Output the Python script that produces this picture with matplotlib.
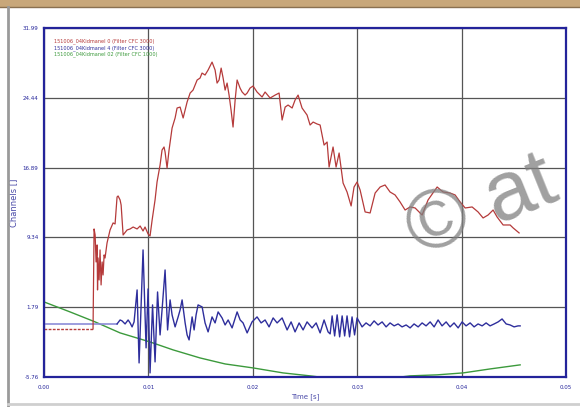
import numpy as np
import matplotlib
matplotlib.use('Agg')
import matplotlib.pyplot as plt
from matplotlib.patches import Rectangle
from matplotlib.lines import Line2D

# Channel data (time in ms, value in channel units).
red_t = [0, 4.69, 4.79, 4.89, 4.98, 5.08, 5.12, 5.17, 5.27, 5.36, 5.46, 5.56, 5.65, 5.75, 5.84,
         6.03, 6.32, 6.61, 6.80, 6.99, 7.09, 7.28, 7.38, 7.57, 7.95, 8.24, 8.53, 8.91, 9.20,
         9.48, 9.67, 9.96, 10.15, 10.35, 10.63, 10.82, 11.11, 11.30, 11.49, 11.59, 11.78,
         11.97, 12.26, 12.55, 12.74, 13.03, 13.32, 13.51, 13.70, 13.99, 14.27, 14.66, 14.94,
         15.13, 15.42, 15.71, 16.09, 16.38, 16.57, 16.76, 16.96, 17.15, 17.34, 17.53, 17.72,
         17.91, 18.10, 18.30, 18.49, 18.77, 18.97, 19.25, 19.45, 19.73, 20.02, 20.40, 20.88,
         21.17, 21.65, 22.13, 22.51, 22.80, 23.09, 23.37, 23.76, 24.04, 24.33, 24.71, 25.19,
         25.48, 25.77, 26.15, 26.44, 26.82, 27.11, 27.30, 27.68, 27.97, 28.26, 28.64, 29.02,
         29.41, 29.69, 29.98, 30.27, 30.75, 31.23, 31.71, 32.19, 32.66, 33.14, 33.62, 34.10,
         34.58, 35.06, 35.54, 36.21, 36.78, 37.65, 38.22, 38.89, 39.37, 39.85, 40.33, 41.00,
         41.57, 42.05, 42.53, 43.01, 43.39, 43.97, 44.64, 44.93, 45.50]
red_v = [-0.57, -0.57, 10.25, 9.60, 6.68, 8.52, 3.65, 7.11, 4.73, 7.98, 4.19, 6.68, 5.27, 7.44, 7.11,
         8.73, 10.14, 10.90, 10.79, 13.71, 13.82, 13.39, 12.84, 9.60, 10.14, 10.25, 10.46, 10.25, 10.57,
         10.03, 10.46, 9.71, 9.49, 11.22, 13.39, 15.33, 17.17, 18.79, 19.12, 18.58, 16.85,
         18.79, 21.17, 22.26, 23.34, 23.44, 22.26, 23.12, 23.99, 24.96, 25.28, 26.37, 26.58,
         27.12, 26.91, 27.45, 28.31, 27.45, 26.04, 26.37, 27.66, 26.58, 25.28, 26.04, 24.74,
         23.12, 21.28, 24.20, 26.37, 25.50, 25.07, 24.74, 24.96, 25.50, 25.72, 25.07, 24.53,
         25.07, 24.42, 24.74, 24.96, 22.04, 23.44, 23.66, 23.34, 24.20, 24.74, 23.34, 22.58,
         21.50, 21.82, 21.61, 21.50, 19.33, 19.66, 16.95, 19.12, 16.95, 18.47, 15.22, 14.25,
         12.74, 14.79, 15.33, 14.47, 12.09, 11.98, 14.14, 14.79, 15.01, 14.25, 13.93, 13.17,
         12.30, 12.63, 12.52, 11.76, 13.39, 14.79, 14.25, 14.14, 13.93, 13.17, 12.52, 12.63,
         12.09, 11.44, 11.76, 12.30, 11.55, 10.68, 10.68, 10.36, 9.82]

blue_t = [0, 6.99, 7.28, 7.47, 7.76, 8.05, 8.24, 8.43, 8.62, 8.91, 9.10, 9.48, 9.77, 9.96, 10.15,
          10.39, 10.63, 10.87, 11.11, 11.30, 11.59, 11.83, 12.07, 12.26, 12.55, 12.84, 13.03,
          13.22, 13.51, 13.70, 13.89, 14.18, 14.37, 14.56, 14.75, 15.14, 15.42, 15.71, 16.09,
          16.38, 16.67, 17.05, 17.34, 17.63, 18.01, 18.49, 18.78, 19.06, 19.45, 19.92, 20.40,
          20.79, 21.17, 21.55, 21.94, 22.32, 22.80, 23.28, 23.66, 24.04, 24.43, 24.81, 25.19,
          25.67, 26.06, 26.44, 26.82, 27.20, 27.40, 27.59, 27.83, 28.07, 28.31, 28.55, 28.79,
          29.02, 29.26, 29.50, 29.74, 29.98, 30.46, 30.84, 31.23, 31.61, 31.99, 32.38, 32.76,
          33.14, 33.53, 33.91, 34.29, 34.68, 35.06, 35.44, 35.83, 36.21, 36.59, 36.98, 37.36,
          37.74, 38.12, 38.51, 38.89, 39.27, 39.66, 40.04, 40.42, 40.81, 41.19, 41.57, 41.96,
          42.34, 42.72, 43.11, 43.49, 43.87, 44.26, 44.64, 45.02, 45.40, 45.60]
blue_v = [-0.03, -0.03, 0.40, 0.30, -0.03, 0.40, 0.08, -0.35, 0.19, 3.65, -4.25, 7.98, -2.62, 3.76, -5.33,
          2.03, -4.14, 3.43, -1.22, 1.49, 5.81, -0.68, 2.57, 0.95, -0.35, 0.73, 1.49,
          2.57, 0.08, -1.22, -1.76, 0.73, -0.68, 0.95, 2.03, 1.81, 0.08, -0.89, 0.73,
          0.08, 1.27, 0.62, -0.14, 0.40, -0.46, 1.27, 0.40, 0.08, -1.00, 0.19, 0.73,
          0.08, 0.40, -0.35, 0.62, 0.08, 0.62, -0.68, 0.19, -0.89, 0.08, -0.68, 0.19,
          -0.46, 0.08, -1.00, 0.40, -0.89, -1.11, 0.84, -1.33, 0.95, -1.43, 0.84, -1.33,
          0.84, -1.43, 0.73, -1.22, 0.62, -0.35, 0.08, -0.24, 0.30, -0.14, 0.19, -0.35,
          0.08, -0.24, -0.03, -0.35, -0.14, -0.46, -0.03, -0.35, 0.08, -0.24, 0.19, -0.35,
          0.40, -0.24, 0.19, -0.35, 0.08, -0.46, 0.19, -0.24, 0.08, -0.35, -0.03, -0.24,
          0.08, -0.24, -0.03, 0.19, 0.51, -0.03, -0.14, -0.35, -0.24, -0.24]

green_t = [0, 2.49, 4.89, 7.28, 10.15, 12.36, 14.94, 17.34, 20.02, 22.89, 25.48, 27.87, 30.27,
           32.66, 35.06, 37.65, 40.14, 42.72, 45.60]
green_v = [2.35, 1.27, 0.19, -1.00, -1.98, -2.84, -3.71, -4.36, -4.79, -5.33, -5.65, -5.98, -6.09,
           -5.98, -5.65, -5.54, -5.33, -4.90, -4.46]

channel_names = ['151006_04Kidmanel 0 (Filter CFC 3000)',
                 '151006_04Kidmanel 4 (Filter CFC 3000)',
                 '151006_04Kidmanel 02 (Filter CFC 1000)']
x_ticks = [0.00, 0.01, 0.02, 0.03, 0.04, 0.05]
x_tick_labels = ['0.00', '0.01', '0.02', '0.03', '0.04', '0.05']
y_ticks = [-5.76, 1.79, 9.34, 16.89, 24.44, 31.99]
y_tick_labels = ['-5.76', '1.79', '9.34', '16.89', '24.44', '31.99']

red_c = '#b53a3a'
blue_c = '#2e2e9c'
green_c = '#3c9a3c'
navy = '#23239a'

fig = plt.figure(figsize=(5.8, 4.07), dpi=100)
fig.patch.set_facecolor('white')

# Frame around the screenshot
fig.patches.append(Rectangle((0, 0.982), 1, 0.018, transform=fig.transFigure,
                             facecolor='#c8a77a', edgecolor='none'))
fig.lines.append(Line2D([0, 1], [0.982, 0.982], transform=fig.transFigure, color='#8a7050', lw=1))
fig.lines.append(Line2D([0.014, 0.014], [0, 0.982], transform=fig.transFigure, color='#9a9a9a', lw=2))
fig.lines.append(Line2D([0.014, 1], [0.008, 0.008], transform=fig.transFigure, color='#cfcfcf', lw=2))

ax = fig.add_axes([0.076, 0.074, 0.900, 0.857])

red_t = np.array(red_t) / 1000
blue_t = np.array(blue_t) / 1000
green_t = np.array(green_t) / 1000

ax.plot(green_t, green_v, color=green_c, lw=1.0)
ax.plot(blue_t[:2], blue_v[:2], color='#8c8cd8', lw=1.2)
ax.plot(blue_t[1:], blue_v[1:], color=blue_c, lw=1.0)
ax.plot(red_t[:2], red_v[:2], color=red_c, lw=1.0, ls=(0, (2, 1)))
ax.plot(red_t[1:], red_v[1:], color=red_c, lw=0.9)

ax.set_xlim(0, 0.05)
ax.set_ylim(-5.76, 31.99)
ax.set_xticks(x_ticks)
ax.set_xticklabels(x_tick_labels)
ax.set_yticks(y_ticks)
ax.set_yticklabels(y_tick_labels)
ax.tick_params(length=0, labelsize=4, labelcolor=navy)
ax.tick_params(axis='y', pad=4)
ax.tick_params(axis='x', pad=6)
ax.grid(True, color='#555555', lw=0.9)
ax.set_axisbelow(True)
for s in ax.spines.values():
    s.set_color(navy)
    s.set_linewidth(1.6)

ax.set_xlabel('Time [s]', fontsize=5, color='#4a4aa8', labelpad=2)
ax.set_ylabel('Channels []', fontsize=6, color='#4a4aa8', labelpad=3)

for i, (name, c) in enumerate(zip(channel_names, [red_c, blue_c, green_c])):
    ax.text(0.019, 0.972 - i * 0.02, name, transform=ax.transAxes, fontsize=3.6,
            color=c, va='top')

# Watermark
fig.text(0.722, 0.37, '\u00a9 at', fontsize=60, family='Liberation Sans',
         color='#808080', alpha=0.75, rotation=22, rotation_mode='anchor',
         ha='left', va='baseline')

fig.savefig('out.png', dpi=100)
